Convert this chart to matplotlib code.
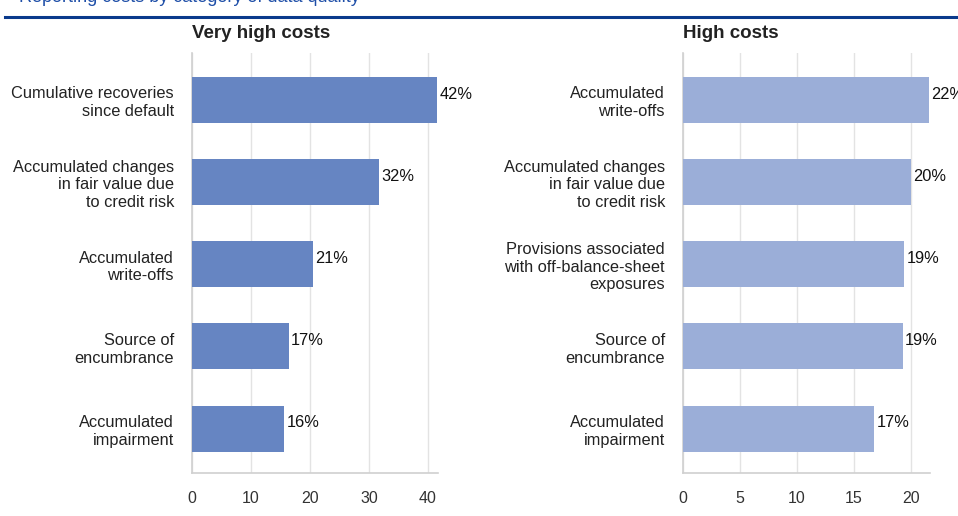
import matplotlib.pyplot as plt

# left panel: very high costs
vh_labels = ['Cumulative recoveries\nsince default',
             'Accumulated changes\nin fair value due\nto credit risk',
             'Accumulated\nwrite-offs',
             'Source of\nencumbrance',
             'Accumulated\nimpairment']
vh_values = [41.5, 31.7, 20.5, 16.4, 15.6]
vh_text = ['42%', '32%', '21%', '17%', '16%']

# right panel: high costs
h_labels = ['Accumulated\nwrite-offs',
            'Accumulated changes\nin fair value due\nto credit risk',
            'Provisions associated\nwith off-balance-sheet\nexposures',
            'Source of\nencumbrance',
            'Accumulated\nimpairment']
h_values = [21.6, 20.0, 19.4, 19.3, 16.8]
h_text = ['22%', '20%', '19%', '19%', '17%']

plt.rcParams['font.family'] = ['Liberation Sans', 'DejaVu Sans']

fig = plt.figure(figsize=(9.58, 5.16), dpi=100)
W, H = 958, 516


def panel(left, right, labels, values, texts, color, title, xmax, ticks):
    ax = fig.add_axes([left / W, 1 - 473 / H, (right - left) / W, (473 - 53) / H])
    y = range(len(values))
    ax.barh(y, values, height=0.56, color=color, zorder=3)
    for yi, v, t in zip(y, values, texts):
        ax.text(v + 0.01 * xmax, yi - 0.07, t, va='center', ha='left',
                fontsize=11.8, color='#111111', clip_on=False)
    ax.set_ylim(4.54, -0.57)
    ax.set_xlim(0, xmax)
    ax.set_yticks(list(y))
    ax.set_yticklabels(labels, fontsize=11.8, color='#222222',
                       linespacing=1.22)
    ax.set_xticks(ticks)
    ax.tick_params(axis='y', length=0, pad=13)
    ax.tick_params(axis='x', length=0, pad=13, labelsize=11.5,
                   labelcolor='#333333')
    ax.grid(axis='x', color='#e3e3e3', lw=1, zorder=0)
    for s in ['top', 'right']:
        ax.spines[s].set_visible(False)
    for s in ['left', 'bottom']:
        ax.spines[s].set_color('#d0d0d0')
        ax.spines[s].set_linewidth(1.2)
    fig.text(left / W, 1 - 33 / H, title, fontsize=13.5, fontweight='bold',
             color='#222222', va='center', ha='left')
    return ax


panel(192, 438, vh_labels, vh_values, vh_text, '#6685c2',
      'Very high costs', 41.7, [0, 10, 20, 30, 40])
panel(683, 930, h_labels, h_values, h_text, '#9baed8',
      'High costs', 21.7, [0, 5, 10, 15, 20])

# cropped chart heading and rule at the top
fig.text(0.02, 1 - 2 / H, 'Reporting costs by category of data quality',
         fontsize=13, color='#1f4fa8', va='baseline', ha='left')
fig.add_artist(plt.Line2D([5 / W, 1], [1 - 17 / H, 1 - 17 / H],
                          color='#0a3a8c', lw=2.2))

fig.savefig('out.png', dpi=100)
